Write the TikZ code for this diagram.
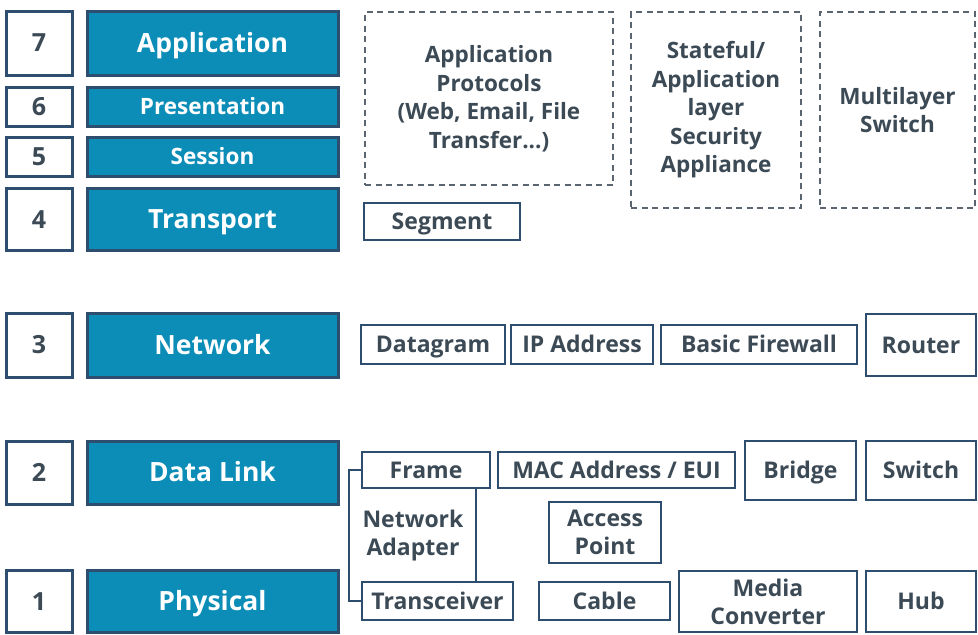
\documentclass[tikz,border=0pt]{standalone}
\usepackage{fontspec}
\setmainfont{Open Sans}
\definecolor{layerblue}{HTML}{0C8DB8}
\definecolor{edge}{HTML}{2D4E6E}
\definecolor{txt}{HTML}{3C4A56}
\definecolor{dash}{HTML}{5A6570}
\tikzset{
  numbox/.style={draw=edge, line width=3pt, fill=white, inner sep=0pt, text=txt, text height=17.8pt, text depth=0pt, font=\bfseries\fontsize{25}{28}\selectfont},
  layerbox/.style={draw=edge, line width=3pt, fill=layerblue, inner sep=0pt, text=white, text height=18.9pt, text depth=0pt, font=\bfseries\fontsize{26.5}{30}\selectfont},
  smalllayer/.style={layerbox, text height=16.1pt, font=\bfseries\fontsize{22.5}{26}\selectfont},
  itemml/.style={draw=edge, line width=2.4pt, fill=white, inner sep=0pt, text=txt, align=center, font=\bfseries\fontsize{23}{28}\selectfont},
  itembox/.style={itemml, text height=16.4pt, text depth=0pt},
  dashbox/.style={draw=dash, line width=2pt, dash pattern=on 6pt off 4.5pt, inner sep=0pt, text=txt, align=center, font=\bfseries\fontsize{22.5}{28.5}\selectfont},
  link/.style={draw=edge, line width=2.4pt}
}
\begin{document}
\begin{tikzpicture}[x=1pt,y=-1pt]
\useasboundingbox[fill=white] (0,0) rectangle (978,635);
% layer numbers and names
\node[numbox, minimum width=66, minimum height=64] (n7) at (39,43) {7};
\node[layerbox, minimum width=251, minimum height=64] (l7) at (212.5,43) {Application};
\node[numbox, minimum width=66, minimum height=39] (n6) at (39,106.5) {6};
\node[smalllayer, minimum width=251, minimum height=39] (l6) at (212.5,106.5) {Presentation};
\node[numbox, minimum width=66, minimum height=39] (n5) at (39,156.5) {5};
\node[smalllayer, minimum width=251, minimum height=39] (l5) at (212.5,156.5) {Session};
\node[numbox, minimum width=66, minimum height=62] (n4) at (39,219.5) {4};
\node[layerbox, minimum width=251, minimum height=62] (l4) at (212.5,219.5) {Transport};
\node[numbox, minimum width=66, minimum height=64] (n3) at (39,345) {3};
\node[layerbox, minimum width=251, minimum height=64] (l3) at (212.5,345) {Network};
\node[numbox, minimum width=66, minimum height=63] (n2) at (39,472.5) {2};
\node[layerbox, minimum width=251, minimum height=63] (l2) at (212.5,472.5) {Data Link};
\node[numbox, minimum width=66, minimum height=62] (n1) at (39,601.5) {1};
\node[layerbox, minimum width=251, minimum height=62] (l1) at (212.5,601.5) {Physical};
% upper layers
\node[dashbox, minimum width=248, minimum height=173] (app) at (489,98.5) {Application\\Protocols\\(Web, Email, File\\Transfer...)};
\node[dashbox, minimum width=170, minimum height=196] (sec) at (716,110) {Stateful/\\Application\\layer\\Security\\Appliance};
\node[dashbox, minimum width=155, minimum height=196] (mls) at (897.5,110) {Multilayer\\Switch};
\node[itembox, minimum width=156, minimum height=37] (seg) at (442,221.5) {Segment};
% network
\node[itembox, minimum width=144, minimum height=39] (dg) at (433,344.5) {Datagram};
\node[itembox, minimum width=142, minimum height=39] (ip) at (582,344.5) {IP Address};
\node[itembox, minimum width=196, minimum height=39] (fw) at (759,344.5) {Basic Firewall};
\node[itembox, minimum width=110, minimum height=62] (rt) at (921,345) {Router};
% data link
\node[itembox, minimum width=128, minimum height=36] (fr) at (426,470) {Frame};
\node[itembox, minimum width=237, minimum height=36] (mac) at (616.5,470) {MAC Address / EUI};
\node[itembox, minimum width=111, minimum height=59] (br) at (800.5,470.5) {Bridge};
\node[itembox, minimum width=110, minimum height=59] (sw) at (921,470.5) {Switch};
\node[itemml, minimum width=112, minimum height=61] (ap) at (605,532.5) {Access\\Point};
% physical
\node[itembox, minimum width=151, minimum height=38] (tr) at (437.5,601) {Transceiver};
\node[itembox, minimum width=131, minimum height=38] (cb) at (604.5,601) {Cable};
\node[itemml, minimum width=178, minimum height=61] (mc) at (768,601.5) {Media\\Converter};
\node[itembox, minimum width=110, minimum height=61] (hub) at (921,601.5) {Hub};
% network adapter
\node[text=txt, align=center, font=\bfseries\fontsize{23}{28}\selectfont] (na) at (413,536) {Network\\Adapter};
\coordinate (vx) at (476,0);
\draw[link] (fr.west) -- ++(-12,0) |- (tr.west);
\draw[link] (fr.south -| vx) -- (tr.north -| vx);
\end{tikzpicture}
\end{document}
